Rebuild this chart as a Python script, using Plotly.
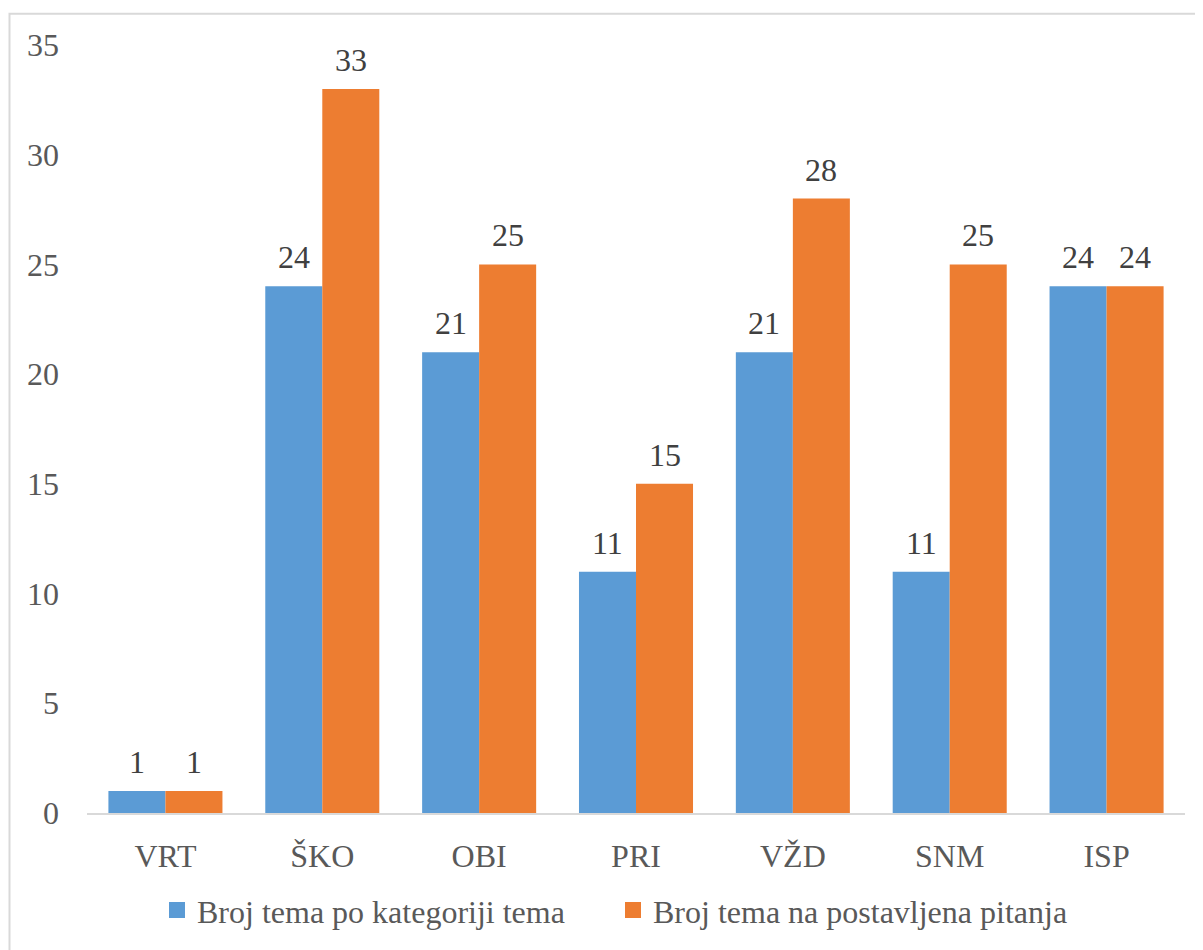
import plotly.graph_objects as go

categories = ["VRT", "ŠKO", "OBI", "PRI", "VŽD", "SNM", "ISP"]
series1_name = "Broj tema po kategoriji tema"
series1_values = [1, 24, 21, 11, 21, 11, 24]
series2_name = "Broj tema na postavljena pitanja"
series2_values = [1, 33, 25, 15, 28, 25, 24]
y_ticks = [0, 5, 10, 15, 20, 25, 30, 35]

BLUE = "#5B9BD5"
ORANGE = "#ED7D31"
FONT = "Liberation Serif"

OFF = 8  # page body margin
W, H = 1203 - OFF, 950 - OFF
L, R, T, B = 87 - OFF, 18, 45 - OFF, 131
pw, ph = W - L - R, H - T - B
BARGAP = 0.273
bar_px = pw / len(categories) * (1 - BARGAP) / 2

fig = go.Figure()
for name, vals, color, shift in [(series1_name, series1_values, BLUE, -bar_px / 2),
                                 (series2_name, series2_values, ORANGE, bar_px / 2)]:
    fig.add_trace(go.Bar(
        x=categories, y=vals, name=name,
        marker=dict(color=color, line=dict(width=0)),
        showlegend=False,
    ))
    for c, v in zip(categories, vals):
        fig.add_annotation(
            x=c, y=v, text=str(v), showarrow=False,
            xanchor="center", yanchor="middle", xshift=shift, yshift=29,
            font=dict(family=FONT, size=32, color="#404040"),
        )

fig.add_trace(go.Scatter(x=[None], y=[None], mode="markers", name=series1_name,
                         marker=dict(symbol="square", size=17, color=BLUE),
                         legend="legend"))
fig.add_trace(go.Scatter(x=[None], y=[None], mode="markers", name=series2_name,
                         marker=dict(symbol="square", size=17, color=ORANGE),
                         legend="legend2"))

legend_common = dict(
    orientation="h", yanchor="middle", xanchor="left",
    font=dict(family=FONT, size=32, color="#595959"),
    bgcolor="rgba(0,0,0,0)", borderwidth=0,
)
leg_y = (811 - 909) / ph
fig.update_layout(
    width=W, height=H,
    margin=dict(l=L, r=R, t=T, b=B, pad=0),
    paper_bgcolor="white", plot_bgcolor="white",
    barmode="group", bargap=BARGAP, bargroupgap=0,
    font=dict(family=FONT, size=32, color="#595959"),
    legend=dict(x=(149 - L) / pw, y=leg_y, **legend_common),
    legend2=dict(x=(605 - L) / pw, y=leg_y, **legend_common),
    xaxis=dict(
        showline=True, linecolor="#D9D9D9", linewidth=2,
        showgrid=False, ticks="", ticklabelstandoff=14,
        tickfont=dict(family=FONT, size=32, color="#595959"),
        fixedrange=True,
    ),
    yaxis=dict(
        range=[0, 35], tickvals=y_ticks, showgrid=False, zeroline=False,
        showline=False, ticks="", ticklabelstandoff=27,
        tickfont=dict(family=FONT, size=32, color="#595959"),
        fixedrange=True,
    ),
    shapes=[dict(
        type="rect", xref="paper", yref="paper",
        x0=(1.5 - L) / pw, x1=1.2, y0=-0.5, y1=(811 - 5.5) / ph,
        line=dict(color="#D9D9D9", width=2), fillcolor="rgba(0,0,0,0)",
        layer="below",
    )],
)

fig.write_html("out.html")
